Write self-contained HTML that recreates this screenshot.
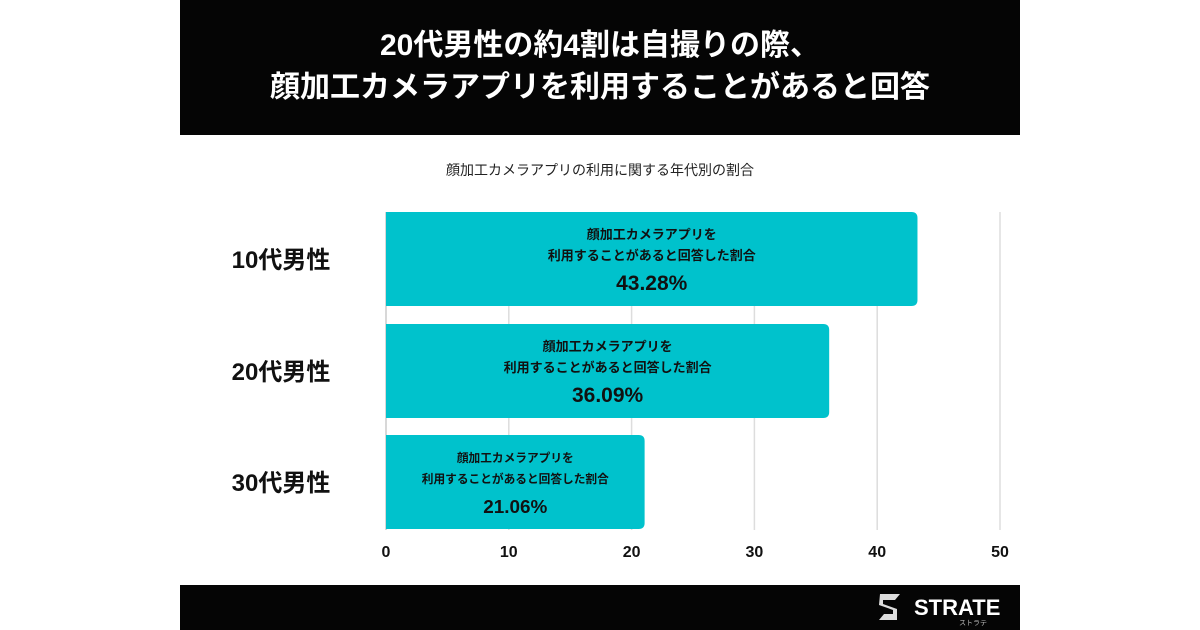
<!DOCTYPE html>
<html><head><meta charset="utf-8"><style>
body{margin:0;width:1200px;height:630px;background:#fff;position:relative;overflow:hidden;font-family:"Liberation Sans","Noto Sans CJK JP",sans-serif;}
#hdr{position:absolute;left:180px;top:0;width:840px;height:135px;background:#050505;color:#fff;text-align:center;font-weight:bold;font-size:30px;line-height:42px;padding-top:25px;box-sizing:border-box;}
#ftr{position:absolute;left:180px;top:585px;width:840px;height:45px;background:#050505;}
#sub{position:absolute;left:180px;width:840px;top:160px;text-align:center;font-size:14px;color:#222;}
svg{position:absolute;left:0;top:0;}
</style></head><body>
<div id="hdr">20代男性の約4割は自撮りの際、<br>顔加工カメラアプリを利用することがあると回答</div>
<div id="sub">顔加工カメラアプリの利用に関する年代別の割合</div>
<div id="ftr">
<svg width="840" height="45">
<path d="M700 9 L720 9 L715 15 L703 15 L703 19 L717 24 L717 35 L699 35 L704 29 L713 29 L713 25 L699 20Z" fill="#ddd"/>
<text x="734" y="30" fill="#fff" font-size="22" font-weight="bold" font-family="Liberation Sans, sans-serif">STRATE</text>
<text x="779" y="40" fill="#bbb" font-size="7" font-family="Noto Sans CJK JP, sans-serif">ストラテ</text>
</svg></div>
<svg id="chart" width="1200" height="630"></svg>
<script>
const categories=["10代男性","20代男性","30代男性"];
const values=[43.28,36.09,21.06];
const ticks=[0,10,20,30,40,50];
const NS="http://www.w3.org/2000/svg";
const svg=document.getElementById('chart');
const x=v=>386+v*12.28;
const rowTop=[212,324,435], bh=94;
function mk(t,a,txt){const e=document.createElementNS(NS,t);for(const k in a)e.setAttribute(k,a[k]);if(txt!==undefined)e.textContent=txt;svg.appendChild(e);return e;}
ticks.forEach(t=>{
 if(t>0){const g=mk('line',{x1:x(t),x2:x(t),y1:212,y2:530,stroke:'#ddd','stroke-width':1.5});
 
 }
 const l=mk('text',{x:x(t),y:557,'text-anchor':'middle','font-size':16,'font-weight':'bold',fill:'#111'},t);
 
 
});
mk('line',{x1:386,x2:386,y1:212,y2:530,stroke:'#ccc','stroke-width':1.5});
categories.forEach((c,i)=>{
 const y0=rowTop[i],w=x(values[i])-386,r=6;
 const b=mk('path',{d:`M386 ${y0} H${386+w-r} Q${386+w} ${y0} ${386+w} ${y0+r} V${y0+bh-r} Q${386+w} ${y0+bh} ${386+w-r} ${y0+bh} H386Z`,fill:'#00c2cc'});
 
 
 const cl=mk('text',{x:281,y:y0+bh/2+9,'text-anchor':'middle','font-size':24,'font-weight':'bold',fill:'#111'},c);
 
 
 const cx=386+w/2, s=i==2?0.9:1;
 const t1=mk('text',{x:cx,y:y0+27,'text-anchor':'middle','font-size':13*s,'font-weight':'bold',fill:'#111'},'顔加工カメラアプリを');
 
 
 const t2=mk('text',{x:cx,y:y0+48,'text-anchor':'middle','font-size':13*s,'font-weight':'bold',fill:'#111'},'利用することがあると回答した割合');
 
 
 const t3=mk('text',{x:cx,y:y0+78,'text-anchor':'middle','font-size':21*s,'font-weight':'bold',fill:'#111'},values[i].toFixed(2)+'%');
 
 
});
</script>
</body></html>
